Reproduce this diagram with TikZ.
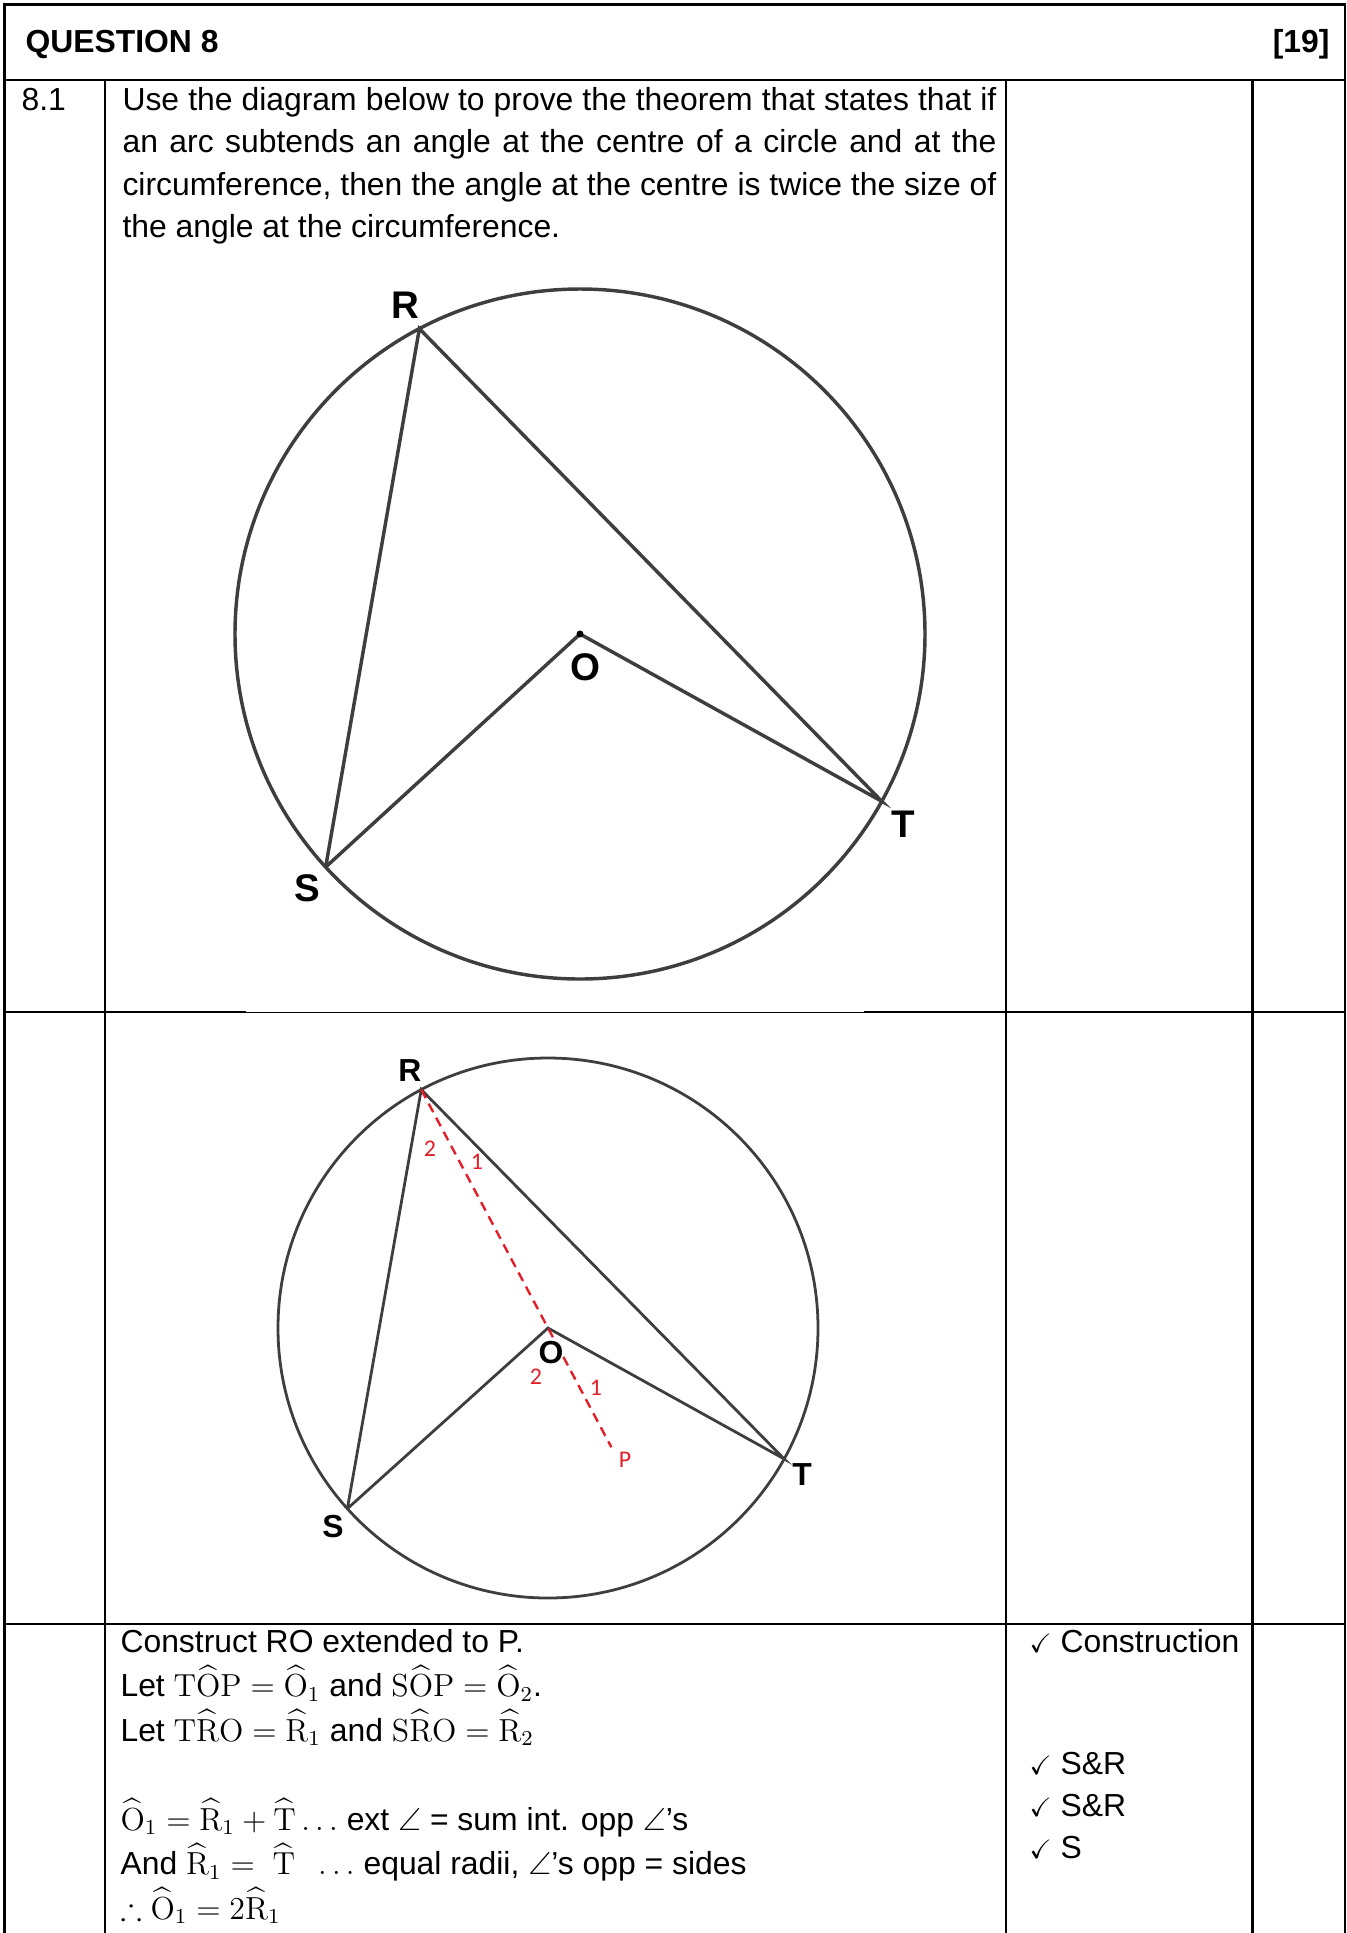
\documentclass[tikz,border=0pt]{standalone}
\usepackage{amsmath,amssymb}
\usepackage[no-math]{fontspec}
\setmainfont{Liberation Sans}
\newfontfamily\markfont{Carlito}
\usepackage{xcolor}
\usepackage{tikz}
\usetikzlibrary{calc}

\definecolor{penGray}{RGB}{62,62,62}
\definecolor{markRed}{RGB}{226,30,40}

\begin{document}
\begin{tikzpicture}[x=0.3765pt,y=-0.3765pt,
    tableline/.style={line width=0.8pt,black},
    chord/.style={line width=1.3pt,penGray},
    smallchord/.style={line width=1.05pt,penGray},
    vertex/.style={font=\fontsize{14.5}{16}\selectfont\bfseries,inner sep=0pt},
    smallvertex/.style={font=\fontsize{12}{14}\selectfont\bfseries,inner sep=0pt},
    anglemark/.style={font=\markfont\fontsize{9}{10}\selectfont,text=markRed,inner sep=0pt},
    body/.style={anchor=base west,inner sep=0pt,font=\fontsize{12}{14}\selectfont}]

\useasboundingbox (0,0) rectangle (1347,1933);

% Draw table frame
\draw[tableline] (4.5,1933) -- (4.5,4.5) -- (1345,4.5) -- (1345,1933);
\draw[tableline] (4.5,80) -- (1345,80);
\draw[tableline] (105,80) -- (105,1933);
\draw[tableline] (1006,80) -- (1006,1933);
\draw[tableline] (1252.5,80) -- (1252.5,1933);
\draw[tableline] (4.5,1012) -- (246,1012);
\draw[black,line width=0.45pt] (246,1012.6) -- (864,1012.6);
\draw[tableline] (864,1012) -- (1345,1012);
\draw[tableline] (4.5,1624) -- (1345,1624);

% Header and question text
\node[body,font=\fontsize{12}{14}\selectfont\bfseries] (title) at (25,52.7) {QUESTION 8};
\node[body,anchor=base east,font=\fontsize{12}{14}\selectfont\bfseries] (marks) at (1330,52.7) {[19]};
\node[body] (itemNo) at (21,110) {8.1};
\node[body] (stmtA) at (122,110) {\makebox[329pt][s]{Use the diagram below to prove the theorem that states that if}};
\node[body] (stmtB) at (122,152.5) {\makebox[329pt][s]{an arc subtends an angle at the centre of a circle and at the}};
\node[body] (stmtC) at (122,195) {\makebox[329pt][s]{circumference, then the angle at the centre is twice the size of}};
\node[body] (stmtD) at (122,237.5) {the angle at the circumference.};

% Draw first circle
\coordinate (O1) at (580,634);
\coordinate (R1) at ($(O1)+(-117.75:345)$);
\coordinate (S1) at ($(O1)+(137.5:345)$);
\coordinate (T1) at ($(O1)+(29:345)$);
\draw[chord] (O1) circle[radius=345];
\draw[chord] (S1) -- (R1) -- (T1) -- (O1) -- (S1);
\fill[black] (O1) circle[radius=3.5];
\node[vertex] (labR1) at (405,305) {R};
\node[vertex] (labO1) at (585,667) {O};
\node[vertex] (labS1) at (307,888) {S};
\node[vertex] (labT1) at (903,824) {T};

% Draw second circle with construction
\coordinate (O2) at (548,1328);
\coordinate (R2) at ($(O2)+(-118:270)$);
\coordinate (S2) at ($(O2)+(138:270)$);
\coordinate (T2) at ($(O2)+(29:270)$);
\coordinate (P2) at ($(O2)+(62:135)$);
\draw[smallchord] (O2) circle[radius=270];
\draw[smallchord] (S2) -- (R2) -- (T2) -- (O2) -- (S2);
\draw[markRed,line width=0.9pt,dash pattern=on 3.6pt off 2.4pt] (R2) -- (P2);
\node[smallvertex] (labR2) at (410,1071) {R};
\node[smallvertex] (labO2) at (551,1353) {O};
\node[smallvertex] (labS2) at (333,1527) {S};
\node[smallvertex] (labT2) at (802,1475) {T};
\node[anglemark] (labP2) at (625,1460) {P};
\node[anglemark] (angR2b) at (430,1149) {2};
\node[anglemark] (angR2a) at (477,1162) {1};
\node[anglemark] (angO2b) at (536,1377) {2};
\node[anglemark] (angO2a) at (596,1388) {1};

% Proof text
\node[body] (proofA) at (120,1652) {Construct RO extended to P.};
\node[body] (proofB) at (120,1696.5) {Let $\mathrm{T}\widehat{\mathrm{O}}\mathrm{P} = \widehat{\mathrm{O}}_1$ and $\mathrm{S}\widehat{\mathrm{O}}\mathrm{P} = \widehat{\mathrm{O}}_2$.};
\node[body] (proofC) at (120,1741) {Let $\mathrm{T}\widehat{\mathrm{R}}\mathrm{O} = \widehat{\mathrm{R}}_1$ and $\mathrm{S}\widehat{\mathrm{R}}\mathrm{O} = \widehat{\mathrm{R}}_2$};
\node[body] (proofD) at (120,1830) {$\widehat{\mathrm{O}}_1 = \widehat{\mathrm{R}}_1 + \widehat{\mathrm{T}} \ldots$ ext $\angle$ = sum int. opp $\angle$’s};
\node[body] (proofE) at (120,1874.5) {And $\widehat{\mathrm{R}}_1 = \ \widehat{\mathrm{T}}\ \ \ldots$ equal radii, $\angle$’s opp = sides};
\node[body] (proofF) at (120,1919) {$\therefore \widehat{\mathrm{O}}_1 = 2\widehat{\mathrm{R}}_1$};

% Mark allocation
\node[body] (tickA) at (1029,1652) {{\fontsize{10}{12}\selectfont$\checkmark$} Construction};
\node[body] (tickB) at (1029,1774) {{\fontsize{10}{12}\selectfont$\checkmark$} S\&R};
\node[body] (tickC) at (1029,1816) {{\fontsize{10}{12}\selectfont$\checkmark$} S\&R};
\node[body] (tickD) at (1029,1858) {{\fontsize{10}{12}\selectfont$\checkmark$} S};
\end{tikzpicture}
\end{document}
